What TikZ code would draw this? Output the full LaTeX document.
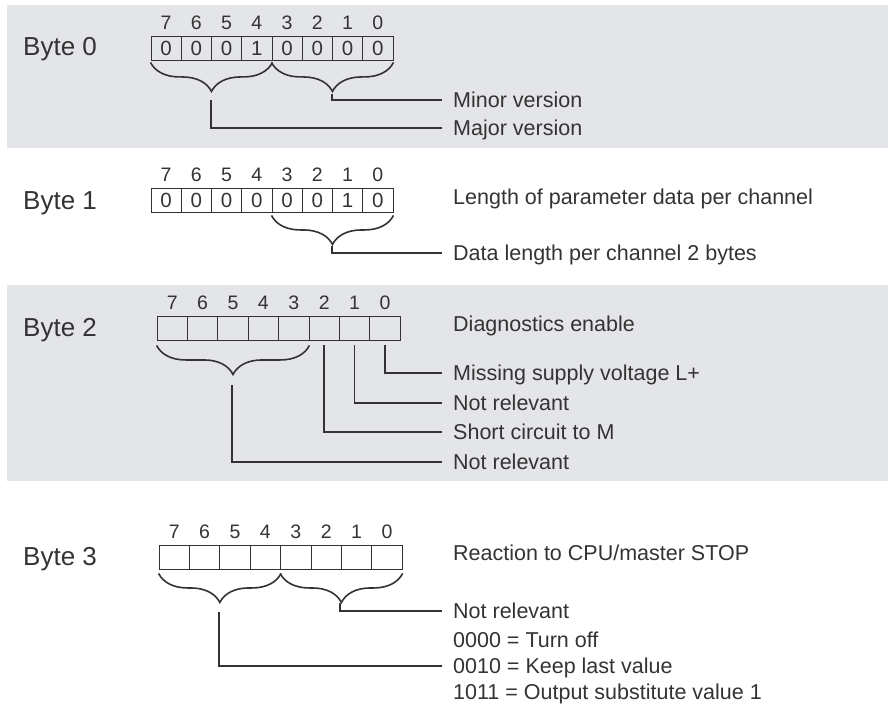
\documentclass[tikz,border=0pt]{standalone}
\usepackage{fontspec}
\setmainfont{Liberation Sans}
\usetikzlibrary{decorations.pathreplacing,positioning}
\definecolor{bandgray}{HTML}{E4E5E8}
\definecolor{ink}{HTML}{333333}
\tikzset{
  cell/.style={draw=ink, line width=0.9pt, minimum width=30.3pt, minimum height=24pt, inner sep=0pt, text=ink, font=\fontsize{20.5}{20.5}\selectfont},
  bitno/.style={inner sep=0pt, text=ink, font=\fontsize{19.5}{19.5}\selectfont},
  bytelabel/.style={anchor=west, inner sep=0pt, text height=19pt, text depth=0pt, text=ink, font=\fontsize{26}{26}\selectfont},
  desc/.style={anchor=west, inner xsep=11pt, inner ysep=0pt, text height=15.4pt, text depth=0pt, text=ink, font=\fontsize{21.5}{22}\selectfont},
  lead/.style={line width=1.6pt, draw=ink},
  curly/.style={lead, decorate, decoration={brace, mirror, amplitude=29pt}},
}
\begin{document}
\begin{tikzpicture}[x=1pt,y=-1pt]
\useasboundingbox (0,0) rectangle (888,706);
\fill[bandgray] (7,5) rectangle (888,148);
\fill[bandgray] (7,285) rectangle (888,481);

% Byte 0
\node[bytelabel] (byte0) at (23,46) {Byte 0};
\foreach \v [count=\k from 0] in {0,0,0,1,0,0,0,0} {
  \pgfmathtruncatemacro\b{7-\k}
  \node[cell] (a\b) at (166.1+30.25*\k,48) {\v};
  \node[bitno] (a\b n) at (166.1+30.25*\k,23) {\b};
}
\draw[curly] ([yshift=-2pt]a7.south west) -- ([yshift=-2pt]a4.south east);
\draw[curly] ([yshift=-2pt]a3.south west) -- ([yshift=-2pt]a0.south east);
\node[desc] (minor) at (442,100) {Minor version};
\node[desc] (major) at (442,128) {Major version};
\coordinate (a30) at (332,94);
\coordinate (a74) at (211,100);
\draw[lead] (a30) |- (minor.west);
\draw[lead] (a74) |- (major.west);

% Byte 1
\node[bytelabel] (byte1) at (23,200) {Byte 1};
\foreach \v [count=\k from 0] in {0,0,0,0,0,0,1,0} {
  \pgfmathtruncatemacro\b{7-\k}
  \node[cell] (b\b) at (166.1+30.25*\k,200) {\v};
  \node[bitno] (b\b n) at (166.1+30.25*\k,175) {\b};
}
\draw[curly] ([yshift=-3pt]b3.south west) -- ([yshift=-3pt]b0.south east);
\node[desc] (lenpar) at (442,197) {Length of parameter data per channel};
\node[desc] (datalen) at (442,253) {Data length per channel 2 bytes};
\coordinate (b30) at (332,246);
\draw[lead] (b30) |- (datalen.west);

% Byte 2
\node[bytelabel] (byte2) at (23,327) {Byte 2};
\foreach \k in {0,...,7} {
  \pgfmathtruncatemacro\b{7-\k}
  \node[cell] (c\b) at (172.2+30.4*\k,328) {};
  \node[bitno] (c\b n) at (172.2+30.4*\k,303) {\b};
}
\draw[curly] ([yshift=-5pt]c7.south west) -- ([yshift=-5pt]c3.south east);
\node[desc] (diag) at (442,324) {Diagnostics enable};
\node[desc] (supply) at (442,373) {Missing supply voltage L+};
\node[desc] (notrel1) at (442,403) {Not relevant};
\node[desc] (shortm) at (442,432) {Short circuit to M};
\node[desc] (notrel2) at (442,462) {Not relevant};
\coordinate (c73) at (232,385);
\draw[lead] ([yshift=-5pt]c0.south) |- (supply.west);
\draw[lead] ([yshift=-5pt]c1.south) |- (notrel1.west);
\draw[lead] ([yshift=-5pt]c2.south) |- (shortm.west);
\draw[lead] (c73) |- (notrel2.west);

% Byte 3
\node[bytelabel] (byte3) at (23,556) {Byte 3};
\foreach \k in {0,...,7} {
  \pgfmathtruncatemacro\b{7-\k}
  \node[cell] (d\b) at (174.2+30.4*\k,557) {};
  \node[bitno] (d\b n) at (174.2+30.4*\k,532) {\b};
}
\draw[curly] ([yshift=-4pt]d7.south west) -- ([yshift=-4pt]d4.south east);
\draw[curly] ([yshift=-4pt]d3.south west) -- ([yshift=-4pt]d0.south east);
\node[desc] (react) at (442,553) {Reaction to CPU/master STOP};
\node[desc] (notrel3) at (442,611) {Not relevant};
\node[desc] (turnoff) at (442,640) {0000 = Turn off};
\node[desc] (keeplast) at (442,666) {0010 = Keep last value};
\node[desc] (subst) at (442,692) {1011 = Output substitute value 1};
\coordinate (d30) at (340,603);
\coordinate (d74) at (219,612);
\draw[lead] (d30) |- (notrel3.west);
\draw[lead] (d74) |- (keeplast.west);
\end{tikzpicture}
\end{document}
